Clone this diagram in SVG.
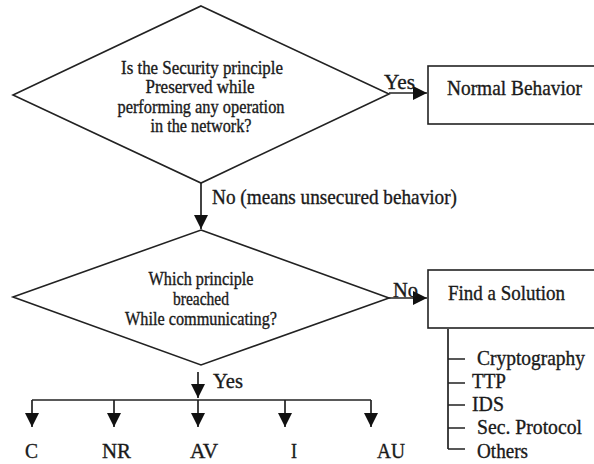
<svg xmlns="http://www.w3.org/2000/svg" width="594" height="464" viewBox="0 0 594 464">
<style>
.shape{fill:#fff;stroke:#222;stroke-width:1.6}
.ln{fill:none;stroke:#222;stroke-width:1.7}
text{font-family:"Liberation Serif","Times New Roman",serif;fill:#1a1a1a;stroke:#1a1a1a;stroke-width:0.35}
.q{font-size:18.5px;text-anchor:middle}
.l{font-size:21px}
</style>
<defs>
<marker id="ah" markerUnits="userSpaceOnUse" markerWidth="14" markerHeight="16" viewBox="0 0 14 16" refX="14" refY="7" orient="auto">
<path d="M0,0 L14,7 L0,14 Z" fill="#111"/>
</marker>
</defs>
<rect width="594" height="464" fill="#fff"/>
<g id="connectors">
<path class="ln" d="M389,93 L427,93" marker-end="url(#ah)"/>
<path class="ln" d="M201,183 L201,229" marker-end="url(#ah)"/>
<path class="ln" d="M389,298 L427,298" marker-end="url(#ah)"/>
<path class="ln" d="M198,372 L198,398" marker-end="url(#ah)"/>
<path class="ln" d="M32,400 L371,400"/>
<path class="ln" d="M32,400 L32,427" marker-end="url(#ah)"/>
<path class="ln" d="M114,400 L114,427" marker-end="url(#ah)"/>
<path class="ln" d="M198,400 L198,427" marker-end="url(#ah)"/>
<path class="ln" d="M285,400 L285,427" marker-end="url(#ah)"/>
<path class="ln" d="M371,400 L371,427" marker-end="url(#ah)"/>
<path class="ln" d="M448,329 L448,449 M448,359 L465,359 M448,383 L465,383 M448,405 L465,405 M448,428 L465,428 M448,449 L465,449"/>
<text class="l" x="384" y="89" textLength="31" lengthAdjust="spacingAndGlyphs">Yes</text>
<text class="l" x="212" y="204" textLength="245" lengthAdjust="spacingAndGlyphs">No (means unsecured behavior)</text>
<text class="l" x="393" y="297" textLength="25" lengthAdjust="spacingAndGlyphs">No</text>
<text class="l" x="213" y="388" textLength="30" lengthAdjust="spacingAndGlyphs">Yes</text>
</g>
<g id="decision1">
<polygon class="shape" points="201,6 389,94 201,183 13,95"/>
<text class="q" x="202" y="74" textLength="162" lengthAdjust="spacingAndGlyphs">Is the Security principle</text>
<text class="q" x="200" y="93" textLength="109" lengthAdjust="spacingAndGlyphs">Preserved while</text>
<text class="q" x="201" y="113" textLength="167" lengthAdjust="spacingAndGlyphs">performing any operation</text>
<text class="q" x="201" y="132" textLength="101" lengthAdjust="spacingAndGlyphs">in the network?</text>
</g>
<g id="normal">
<rect class="shape" x="428" y="66" width="180" height="58"/>
<text class="l" x="447" y="95" textLength="135" lengthAdjust="spacingAndGlyphs">Normal Behavior</text>
</g>
<g id="decision2">
<polygon class="shape" points="201,230 389,298 201,365 13,297"/>
<text class="q" x="201" y="285" textLength="105" lengthAdjust="spacingAndGlyphs">Which principle</text>
<text class="q" x="201" y="305" textLength="56" lengthAdjust="spacingAndGlyphs">breached</text>
<text class="q" x="201" y="325" textLength="152" lengthAdjust="spacingAndGlyphs">While communicating?</text>
</g>
<g id="solution">
<rect class="shape" x="428" y="270" width="180" height="58"/>
<text class="l" x="448" y="300" textLength="117" lengthAdjust="spacingAndGlyphs">Find a Solution</text>
<text class="l" x="477" y="365" textLength="108" lengthAdjust="spacingAndGlyphs">Cryptography</text>
<text class="l" x="472" y="388" textLength="34" lengthAdjust="spacingAndGlyphs">TTP</text>
<text class="l" x="472" y="411" textLength="32" lengthAdjust="spacingAndGlyphs">IDS</text>
<text class="l" x="477" y="434" textLength="105" lengthAdjust="spacingAndGlyphs">Sec. Protocol</text>
<text class="l" x="477" y="458" textLength="51" lengthAdjust="spacingAndGlyphs">Others</text>
</g>
<g id="C"><text class="l" x="25" y="458" textLength="13" lengthAdjust="spacingAndGlyphs">C</text></g>
<g id="NR"><text class="l" x="102" y="458" textLength="29" lengthAdjust="spacingAndGlyphs">NR</text></g>
<g id="AV"><text class="l" x="190" y="458" textLength="28" lengthAdjust="spacingAndGlyphs">AV</text></g>
<g id="I"><text class="l" x="291" y="458" textLength="6" lengthAdjust="spacingAndGlyphs">I</text></g>
<g id="AU"><text class="l" x="377" y="458" textLength="28" lengthAdjust="spacingAndGlyphs">AU</text></g>
</svg>
